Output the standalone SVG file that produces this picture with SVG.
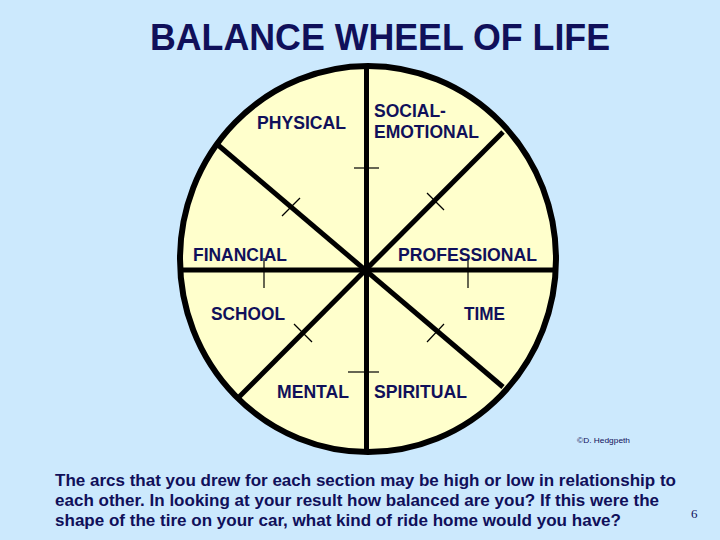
<svg xmlns="http://www.w3.org/2000/svg" width="720" height="540" viewBox="0 0 720 540">
  <style>
    .lbl { font-family: "Liberation Sans", Arial, sans-serif; font-weight: bold; font-size: 17.5px; fill: #10105a; }
    .spoke { stroke: #000; stroke-width: 5; fill: none; }
    .tick { stroke: #000; stroke-width: 1.2; fill: none; }
    .body { font-family: "Liberation Sans", Arial, sans-serif; font-weight: bold; font-size: 17px; fill: #10105a; }
  </style>
  <rect x="0" y="0" width="720" height="540" fill="#cce9fd"/>
  <text x="150" y="50" font-family="Liberation Sans, Arial, sans-serif" font-weight="bold" font-size="36" fill="#10105a" textLength="460" lengthAdjust="spacingAndGlyphs">BALANCE WHEEL OF LIFE</text>

  <g id="wheel">
    <ellipse cx="368" cy="259" rx="188" ry="193" fill="#ffffcc" stroke="#000" stroke-width="6"/>
  </g>

  <g id="connectors">
    <line class="spoke" x1="366.5" y1="66" x2="366.5" y2="452"/>
    <line class="spoke" x1="180" y1="270" x2="555" y2="270"/>
    <line class="spoke" x1="218" y1="145" x2="503" y2="387"/>
    <line class="spoke" x1="503" y1="132" x2="238" y2="398"/>
    <line class="tick" x1="354" y1="168" x2="379" y2="168"/>
    <line class="tick" x1="348" y1="372" x2="379" y2="372"/>
    <line class="tick" x1="264" y1="258" x2="264" y2="288"/>
    <line class="tick" x1="468" y1="258" x2="468" y2="288"/>
    <line class="tick" x1="282" y1="216" x2="300" y2="198"/>
    <line class="tick" x1="427" y1="193" x2="444" y2="210"/>
    <line class="tick" x1="294" y1="324" x2="312" y2="342"/>
    <line class="tick" x1="427" y1="342" x2="444" y2="324"/>
  </g>

  <g id="physical"><text class="lbl" x="257" y="129" textLength="89" lengthAdjust="spacingAndGlyphs">PHYSICAL</text></g>
  <g id="social-emotional">
    <text class="lbl" x="374" y="117">SOCIAL-</text>
    <text class="lbl" x="374" y="138" textLength="105" lengthAdjust="spacingAndGlyphs">EMOTIONAL</text>
  </g>
  <g id="financial"><text class="lbl" x="193" y="261" textLength="94" lengthAdjust="spacingAndGlyphs">FINANCIAL</text></g>
  <g id="professional"><text class="lbl" x="398" y="261" textLength="139" lengthAdjust="spacingAndGlyphs">PROFESSIONAL</text></g>
  <g id="school"><text class="lbl" x="211" y="320" textLength="74" lengthAdjust="spacingAndGlyphs">SCHOOL</text></g>
  <g id="time"><text class="lbl" x="464" y="320" textLength="41" lengthAdjust="spacingAndGlyphs">TIME</text></g>
  <g id="mental"><text class="lbl" x="277" y="398" textLength="72" lengthAdjust="spacingAndGlyphs">MENTAL</text></g>
  <g id="spiritual"><text class="lbl" x="374" y="398" textLength="93" lengthAdjust="spacingAndGlyphs">SPIRITUAL</text></g>

  <text x="577" y="443" font-family="Liberation Sans, Arial, sans-serif" font-size="8" fill="#10105a" textLength="53" lengthAdjust="spacingAndGlyphs">©D. Hedgpeth</text>

  <text class="body" x="55" y="486" textLength="621" lengthAdjust="spacingAndGlyphs">The arcs that you drew for each section may be high or low in relationship to</text>
  <text class="body" x="55" y="506" textLength="604" lengthAdjust="spacingAndGlyphs">each other. In looking at your result how balanced are you? If this were the</text>
  <text class="body" x="55" y="526" textLength="566" lengthAdjust="spacingAndGlyphs">shape of the tire on your car, what kind of ride home would you have?</text>
  <text x="691" y="518" font-family="Liberation Serif, Times New Roman, serif" font-size="13" fill="#10105a">6</text>
</svg>
